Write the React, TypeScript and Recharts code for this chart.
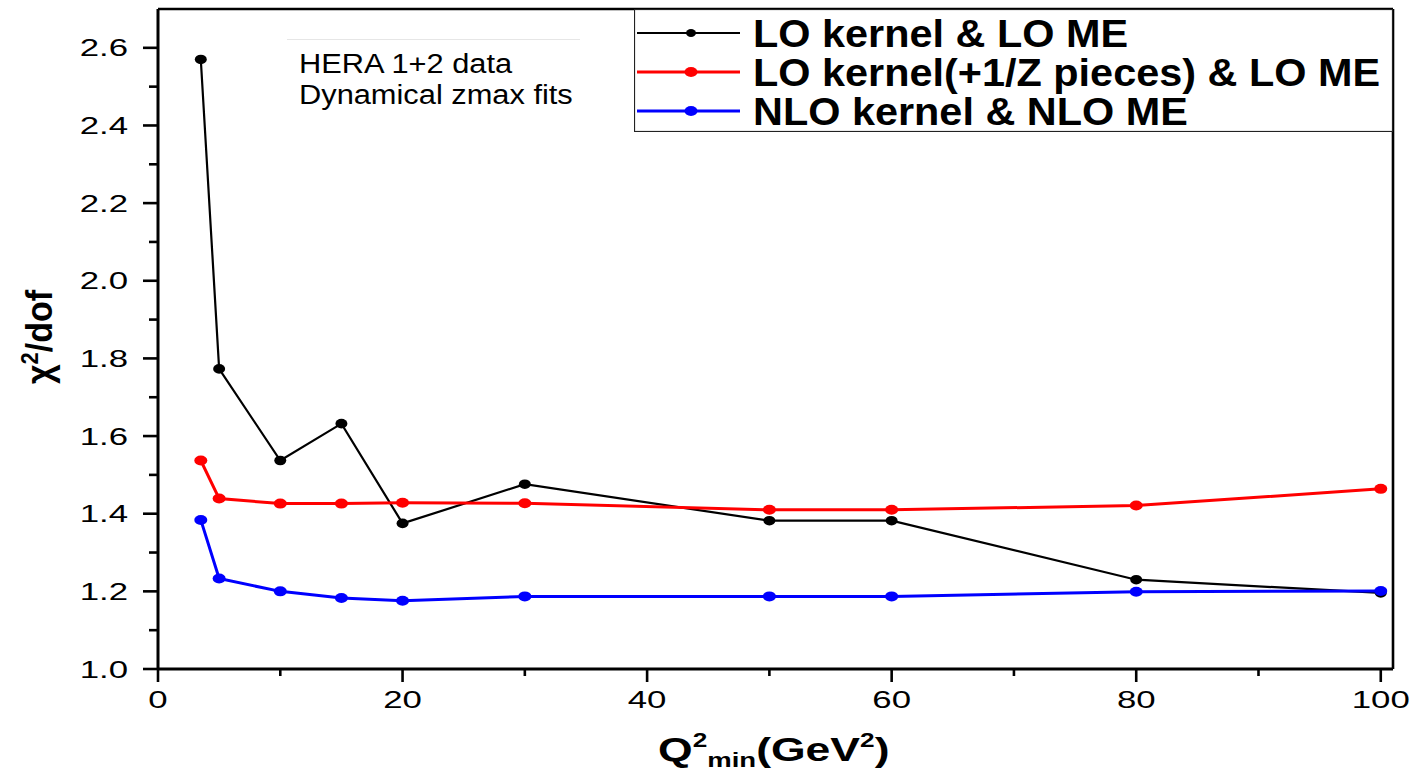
import React from "react";
import { LineChart, Line, XAxis, YAxis, ReferenceLine, Legend } from "recharts";

const qMin = [3.5, 5, 10, 15, 20, 30, 50, 60, 80, 100];
const loKernelLoMe = [2.57, 1.773, 1.537, 1.632, 1.375, 1.476, 1.382, 1.382, 1.23, 1.196];
const loKernelZLoMe = [1.537, 1.439, 1.426, 1.426, 1.428, 1.427, 1.41, 1.41, 1.421, 1.464];
const nloKernelNloMe = [1.384, 1.233, 1.2, 1.183, 1.176, 1.187, 1.187, 1.187, 1.199, 1.201];

const xMajorTicks = [0, 20, 40, 60, 80, 100];
const xMinorTicks = [10, 30, 50, 70, 90];
const yMajorTicks = [1.0, 1.2, 1.4, 1.6, 1.8, 2.0, 2.2, 2.4, 2.6];
const yMinorTicks = [1.1, 1.3, 1.5, 1.7, 1.9, 2.1, 2.3, 2.5];

const seriesKeys = ["lo", "loz", "nlo"];
const seriesNames = ["LO kernel & LO ME", "LO kernel(+1/Z pieces) & LO ME", "NLO kernel & NLO ME"];
const seriesColors = ["#000000", "#ff0000", "#0000ff"];
const seriesWidths = [2.2, 3, 3];

const FONT = "'Liberation Sans', Arial, sans-serif";

const data = qMin.map((q, i) => ({
  q,
  lo: loKernelLoMe[i],
  loz: loKernelZLoMe[i],
  nlo: nloKernelNloMe[i],
}));

const isIn = (list: number[], v: number) => list.some((t) => Math.abs(t - v) < 1e-6);

function XTick(props: any) {
  const { x, y, payload } = props;
  const v = payload.value;
  const major = isIn(xMajorTicks, v);
  return (
    <g>
      <line x1={x} x2={x} y1={y} y2={y + (major ? 13 : 7)} stroke="#000" strokeWidth={2.6} />
      {major && (
        <text
          transform={`translate(${x},${y + 39}) scale(1.45,1)`}
          textAnchor="middle"
          fontSize={24}
          fontFamily={FONT}
          fill="#000"
        >
          {v}
        </text>
      )}
    </g>
  );
}

function YTick(props: any) {
  const { x, y, payload } = props;
  const v = payload.value;
  const major = isIn(yMajorTicks, v);
  return (
    <g>
      <line x1={x - (major ? 15 : 9)} x2={x} y1={y} y2={y} stroke="#000" strokeWidth={2.6} />
      {major && (
        <text
          transform={`translate(${x - 30},${y + 8.5}) scale(1.45,1)`}
          textAnchor="end"
          fontSize={24}
          fontFamily={FONT}
          fill="#000"
        >
          {v.toFixed(1)}
        </text>
      )}
    </g>
  );
}

const makeDot = (color: string, rx: number, ry: number) => (p: any) => (
  <ellipse key={`dot-${color}-${p.index}`} cx={p.cx} cy={p.cy} rx={rx} ry={ry} fill={color} />
);

function LegendBox() {
  const rows = [24, 63, 102];
  return (
    <svg width={759} height={123} style={{ display: "block" }}>
      <rect x={0.5} y={0.5} width={758} height={122} fill="#fff" stroke="#222" strokeWidth={1.2} />
      {seriesNames.map((name, i) => (
        <g key={name}>
          <line x1={3} x2={106} y1={rows[i]} y2={rows[i]} stroke={seriesColors[i]} strokeWidth={seriesWidths[i]} />
          <ellipse cx={57} cy={rows[i]} rx={i === 0 ? 5 : 6.5} ry={i === 0 ? 4 : 5} fill={seriesColors[i]} />
          <text
            transform={`translate(119,${rows[i] + 13.5}) scale(1.09,1)`}
            fontSize={38}
            fontWeight="bold"
            fontFamily={FONT}
            fill="#000"
          >
            {name}
          </text>
        </g>
      ))}
    </svg>
  );
}

export default function App() {
  return (
    <div style={{ position: "absolute", left: 0, top: 0, width: 1413, height: 770, background: "#fff" }}>
      <LineChart width={1413} height={770} data={data} margin={{ top: 9, right: 20, bottom: 0, left: 0 }}>
        <XAxis
          type="number"
          dataKey="q"
          domain={[0, 101]}
          ticks={[...xMajorTicks, ...xMinorTicks].sort((a, b) => a - b)}
          tick={<XTick />}
          tickLine={false}
          tickSize={0}
          tickMargin={0}
          axisLine={{ stroke: "#000", strokeWidth: 3 }}
          height={101}
          interval={0}
        />
        <YAxis
          type="number"
          domain={[1.0, 2.7]}
          ticks={[...yMajorTicks, ...yMinorTicks].sort((a, b) => a - b)}
          tick={<YTick />}
          tickLine={false}
          tickSize={0}
          tickMargin={0}
          axisLine={{ stroke: "#000", strokeWidth: 3 }}
          width={158}
          interval={0}
          allowDataOverflow
        />
        <ReferenceLine y={2.7} stroke="#000" strokeWidth={2.6} />
        <ReferenceLine x={101} stroke="#000" strokeWidth={2.6} />
        {seriesKeys.map((k, i) => (
          <Line
            key={k}
            type="linear"
            dataKey={k}
            name={seriesNames[i]}
            stroke={seriesColors[i]}
            strokeWidth={seriesWidths[i]}
            dot={makeDot(seriesColors[i], i === 0 ? 6 : 6.5, i === 0 ? 4.8 : 5)}
            activeDot={false}
            isAnimationActive={false}
          />
        ))}
        <Legend
          layout="horizontal"
          verticalAlign="middle"
          align="center"
          content={() => <LegendBox />}
          wrapperStyle={{ position: "absolute", left: 634, top: 9, width: 759, height: 123 }}
        />
      </LineChart>
      <svg
        width={1413}
        height={770}
        style={{ position: "absolute", left: 0, top: 0, pointerEvents: "none" }}
      >
        <line x1={287} x2={580} y1={39.5} y2={39.5} stroke="#e6e6e6" strokeWidth={1} />
        <text transform="translate(299,73) scale(1.1,1)" fontSize={28} fontFamily={FONT} fill="#000">
          HERA 1+2 data
        </text>
        <text transform="translate(299,104) scale(1.1,1)" fontSize={28} fontFamily={FONT} fill="#000">
          Dynamical zmax fits
        </text>
        <text
          transform="translate(52,337) rotate(-90) scale(1,1.1)"
          textAnchor="middle"
          fontSize={34}
          fontWeight="bold"
          fontFamily={FONT}
          fill="#000"
        >
          χ<tspan fontSize={22} dy={-13}>2</tspan>
          <tspan dy={13}>/dof</tspan>
        </text>
        <text
          transform="translate(658,761) scale(1.31,1)"
          fontSize={34}
          fontWeight="bold"
          fontFamily={FONT}
          fill="#000"
        >
          Q<tspan fontSize={20} dy={-14}>2</tspan>
          <tspan fontSize={21} dy={20}>min</tspan>
          <tspan dy={-6}>(GeV</tspan>
          <tspan fontSize={20} dy={-14}>2</tspan>
          <tspan dy={14}>)</tspan>
        </text>
      </svg>
    </div>
  );
}
